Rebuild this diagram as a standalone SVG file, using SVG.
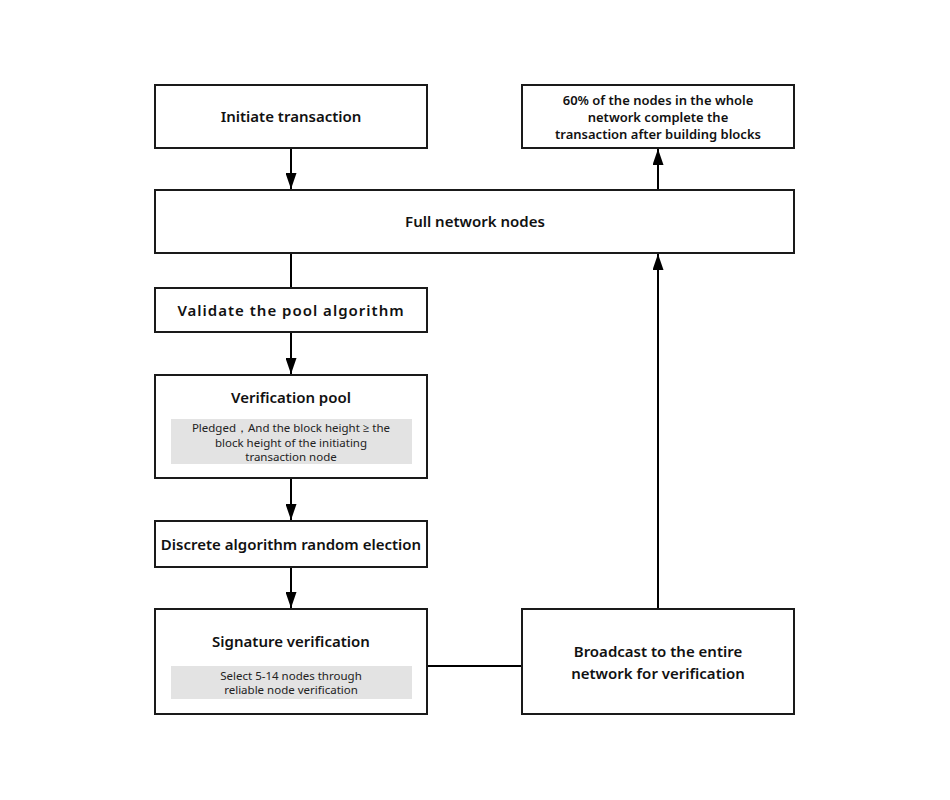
<svg xmlns="http://www.w3.org/2000/svg" width="950" height="800" viewBox="0 0 950 800">
<defs>
<marker id="arr" markerWidth="16" markerHeight="11" refX="16" refY="5.5" orient="auto" markerUnits="userSpaceOnUse" viewBox="0 0 16 11">
<path d="M0,0 L16,5.5 L0,11 Z" fill="#000"/>
</marker>
<style>
.box{fill:#fff;stroke:#1a1a1a;stroke-width:2}
.sub{fill:#e3e3e3;stroke:none}
.t{font-family:"Noto Sans","Open Sans","DejaVu Sans",sans-serif;font-size:15px;font-weight:600;fill:#111;text-anchor:middle}
.s{font-family:"Noto Sans","Open Sans","DejaVu Sans",sans-serif;font-size:11.5px;fill:#222;text-anchor:middle}
.c{stroke:#000;stroke-width:2;fill:none}
</style>
</defs>
<rect width="950" height="800" fill="#fff"/>
<g id="connectors">
<line class="c" x1="291" y1="148" x2="291" y2="189" marker-end="url(#arr)"/>
<line class="c" x1="658" y1="190" x2="658" y2="149" marker-end="url(#arr)"/>
<line class="c" x1="291" y1="253" x2="291" y2="288"/>
<line class="c" x1="291" y1="332" x2="291" y2="374" marker-end="url(#arr)"/>
<line class="c" x1="291" y1="478" x2="291" y2="520" marker-end="url(#arr)"/>
<line class="c" x1="291" y1="567" x2="291" y2="608" marker-end="url(#arr)"/>
<line class="c" x1="427" y1="666" x2="522" y2="666"/>
<line class="c" x1="658" y1="609" x2="658" y2="254" marker-end="url(#arr)"/>
</g>
<g id="initiate">
<rect class="box" x="155" y="85" width="272" height="63"/>
<text class="t" x="291" y="122">Initiate transaction</text>
</g>
<g id="complete">
<rect class="box" x="522" y="85" width="272" height="63"/>
<text class="t" x="658" y="105" style="font-size:13px">60% of the nodes in the whole</text>
<text class="t" x="658" y="122" style="font-size:13px">network complete the</text>
<text class="t" x="658" y="139" style="font-size:13px">transaction after building blocks</text>
</g>
<g id="fullnet">
<rect class="box" x="155" y="190" width="639" height="63"/>
<text class="t" x="475" y="227">Full network nodes</text>
</g>
<g id="validate">
<rect class="box" x="155" y="288" width="272" height="44"/>
<text class="t" x="291" y="316" style="letter-spacing:1px">Validate the pool algorithm</text>
</g>
<g id="pool">
<rect class="box" x="155" y="375" width="272" height="103"/>
<text class="t" x="291" y="403">Verification pool</text>
<rect class="sub" x="171" y="419" width="241" height="45"/>
<text class="s" x="291" y="432">Pledged，And the block height ≥ the</text>
<text class="s" x="291" y="446.5">block height of the initiating</text>
<text class="s" x="291" y="461">transaction node</text>
</g>
<g id="discrete">
<rect class="box" x="155" y="521" width="272" height="46"/>
<text class="t" x="291" y="550">Discrete algorithm random election</text>
</g>
<g id="signature">
<rect class="box" x="155" y="609" width="272" height="105"/>
<text class="t" x="291" y="647">Signature verification</text>
<rect class="sub" x="171" y="666" width="241" height="33"/>
<text class="s" x="291" y="679.5">Select 5-14 nodes through</text>
<text class="s" x="291" y="694">reliable node verification</text>
</g>
<g id="broadcast">
<rect class="box" x="522" y="609" width="272" height="105"/>
<text class="t" x="658" y="657">Broadcast to the entire</text>
<text class="t" x="658" y="679">network for verification</text>
</g>
</svg>
